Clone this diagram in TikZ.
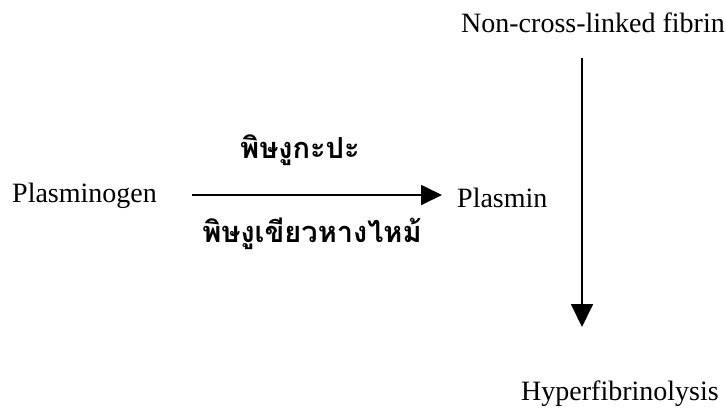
\documentclass[tikz,border=0pt]{standalone}
\usepackage{fontspec}
\setmainfont{Liberation Serif}
\newfontfamily\thaifont[Script=Thai]{Loma}
\usetikzlibrary{arrows.meta}
\tikzset{
  lbl/.style={inner sep=0pt, font=\fontsize{28}{33}\selectfont},
  thlbl/.style={inner sep=0pt, font=\thaifont\bfseries\fontsize{29}{34}\selectfont},
  conn/.style={line width=1.8pt, -{Triangle[length=21pt,width=20pt]}},
}
\begin{document}
\begin{tikzpicture}[x=1pt,y=-1pt]
\useasboundingbox[fill=white] (0,0) rectangle (726,416);
\node[lbl, anchor=base west] (pg) at (12,202) {Plasminogen};
\node[lbl, anchor=base west] (pm) at (457,207) {Plasmin};
\node[lbl, anchor=base west] (nf) at (461,32) {Non-cross-linked fibrin};
\node[lbl, anchor=base west] (hf) at (521,400) {Hyperfibrinolysis};
\node[thlbl, anchor=base] (t1) at (300,158) {พิษงูกะปะ};
\node[thlbl, anchor=base] (t2) at (312,242) {พิษงูเขียวหางไหม้};
\coordinate (h1) at (192,195);
\coordinate (h2) at (442,195);
\coordinate (v1) at (582,58);
\coordinate (v2) at (582,327);
\draw[conn] (h1) -- (h2);
\draw[conn, -{Triangle[length=23pt,width=22pt]}] (v1) -- (v2);
\end{tikzpicture}
\end{document}
